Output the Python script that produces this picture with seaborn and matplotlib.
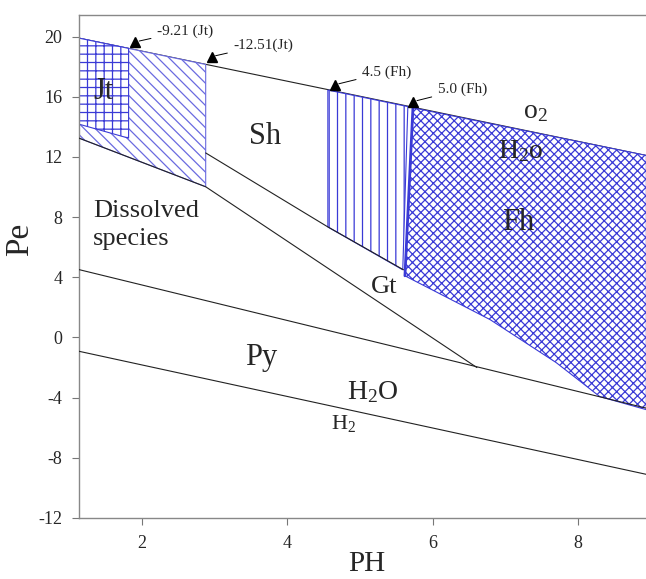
import matplotlib
matplotlib.use('Agg')
import matplotlib.pyplot as plt
import seaborn as sns
import pandas as pd

# boundary lines (pH, pe)
ph_o2 = [1.14, 8.94]
pe_o2 = [19.9, 12.1]
ph_h2 = [1.14, 8.94]
pe_h2 = [-0.92, -9.1]
ph_py = [1.14, 8.94]
pe_py = [4.51, -4.7]
ph_gt_low = [1.14, 2.88, 6.61]
pe_gt_low = [13.25, 10.02, -2.0]
ph_gt_up = [2.88, 4.56, 5.60]
pe_gt_up = [12.27, 7.35, 4.5]

# hatched stability fields
jt_ph = [1.14, 1.82, 1.82, 1.14]
jt_pe = [19.9, 19.22, 13.25, 14.18]
jt2_ph = [1.14, 2.88, 2.88, 1.14]
jt2_pe = [19.9, 18.15, 10.02, 13.25]
fh1_ph = [4.56, 5.66, 5.59, 4.56]
fh1_pe = [16.45, 15.35, 4.5, 7.35]
fh_ph = [5.73, 8.94, 8.94, 8.30, 7.70, 6.79, 5.62]
fh_pe = [15.27, 12.1, -4.8, -3.93, -1.67, 1.19, 4.1]

# marked points + labels
mark_ph = [1.91, 2.96, 4.655, 5.73]
mark_pe = [19.65, 18.67, 16.8, 15.68]
mark_txt = ['-9.21 (Jt)', '-12.51(Jt)', '4.5 (Fh)', '5.0 (Fh)']
txt_ph = [2.21, 3.26, 5.03, 6.07]
txt_pe = [20.38, 19.45, 17.65, 16.5]

sns.set_theme(style='ticks')
plt.rcParams['font.family'] = ['Liberation Serif', 'DejaVu Serif']
plt.rcParams['mathtext.default'] = 'regular'
plt.rcParams['axes.unicode_minus'] = False
plt.rcParams['hatch.linewidth'] = 0.9

fig = plt.figure(figsize=(6.46, 5.79), dpi=100)
ax = fig.add_axes([0.1223, 0.1054, 0.8777, 0.8687])

blue = '#3a3ad6'
lblue = '#6a6ae0'

# fields
ax.fill(jt2_ph, jt2_pe, facecolor='white', edgecolor=lblue, hatch='\\\\\\', lw=0.8, zorder=2)
ax.fill(jt_ph, jt_pe, facecolor='white', edgecolor=blue, hatch='++', lw=0.8, zorder=2)
ax.fill(fh1_ph, fh1_pe, facecolor='white', edgecolor=blue, hatch='||', lw=0.8, zorder=2)
ax.fill(fh_ph, fh_pe, facecolor='white', edgecolor=blue, hatch='xxxx', lw=0.8, zorder=2)
ax.plot([fh_ph[0], fh_ph[-1]], [fh_pe[0], fh_pe[-1]], color=blue, lw=2, zorder=3)

# lines
lines = {'o2': (ph_o2, pe_o2), 'h2': (ph_h2, pe_h2), 'py': (ph_py, pe_py),
         'gt_low': (ph_gt_low, pe_gt_low), 'gt_up': (ph_gt_up, pe_gt_up)}
for name, (x, y) in lines.items():
    df = pd.DataFrame({'pH': x, 'pe': y})
    z = 1.5 if name == 'o2' else 3
    sns.lineplot(data=df, x='pH', y='pe', ax=ax, color='#222222', lw=0.8,
                 sort=False, estimator=None, zorder=z)

# arrows with triangles
ax.plot(mark_ph, mark_pe, '^', color='black', ms=7, zorder=4)
for px, py, t, tx, ty in zip(mark_ph, mark_pe, mark_txt, txt_ph, txt_pe):
    ax.annotate(t, xy=(px, py), xytext=(tx, ty), fontsize=11, ha='left', va='center',
                arrowprops=dict(arrowstyle='-', color='black', lw=0.7, shrinkA=2, shrinkB=3))

# region labels
ax.text(1.47, 15.84, 'Jt', fontsize=22, ha='center', va='baseline', zorder=5)
ax.text(3.69, 12.87, 'Sh', fontsize=22, ha='center', va='baseline')
ax.text(3.64, -1.80, 'Py', fontsize=22, ha='center', va='baseline')
ax.text(7.18, 7.15, 'Fh', fontsize=22, ha='center', va='baseline', zorder=5)
ax.text(5.33, 2.97, 'Gt', fontsize=19, ha='center', va='baseline')
ax.text(7.25, 14.6, 'o$_2$', fontsize=20, ha='left', va='baseline', zorder=5)
ax.text(6.90, 11.95, 'H$_2$o', fontsize=20, ha='left', va='baseline', zorder=5)
ax.text(4.82, -4.1, 'H$_2$O', fontsize=20, ha='left', va='baseline')
ax.text(4.61, -6.1, 'H$_2$', fontsize=16, ha='left', va='baseline')
ax.text(1.33, 8.02, 'Dissolved', fontsize=19, ha='left', va='baseline')
ax.text(1.33, 6.17, 'species', fontsize=19, ha='left', va='baseline')

ax.set_xlim(1.138, 8.935)
ax.set_ylim(-12, 21.44)
ax.set_xticks([2, 4, 6, 8])
ax.set_yticks(list(range(-12, 21, 4)))
ax.tick_params(labelsize=13, length=5, width=0.8, color='#777777', pad=7)
for s in ['left', 'bottom', 'top']:
    ax.spines[s].set_color('#888888')
    ax.spines[s].set_linewidth(1)
ax.spines['right'].set_visible(False)

ax.set_xlabel('PH', fontsize=21)
ax.set_ylabel('Pe', fontsize=24)
ax.xaxis.set_label_coords(0.508, -0.066)
ax.yaxis.set_label_coords(-0.078, 0.553)

fig.savefig('out.png', dpi=100)
